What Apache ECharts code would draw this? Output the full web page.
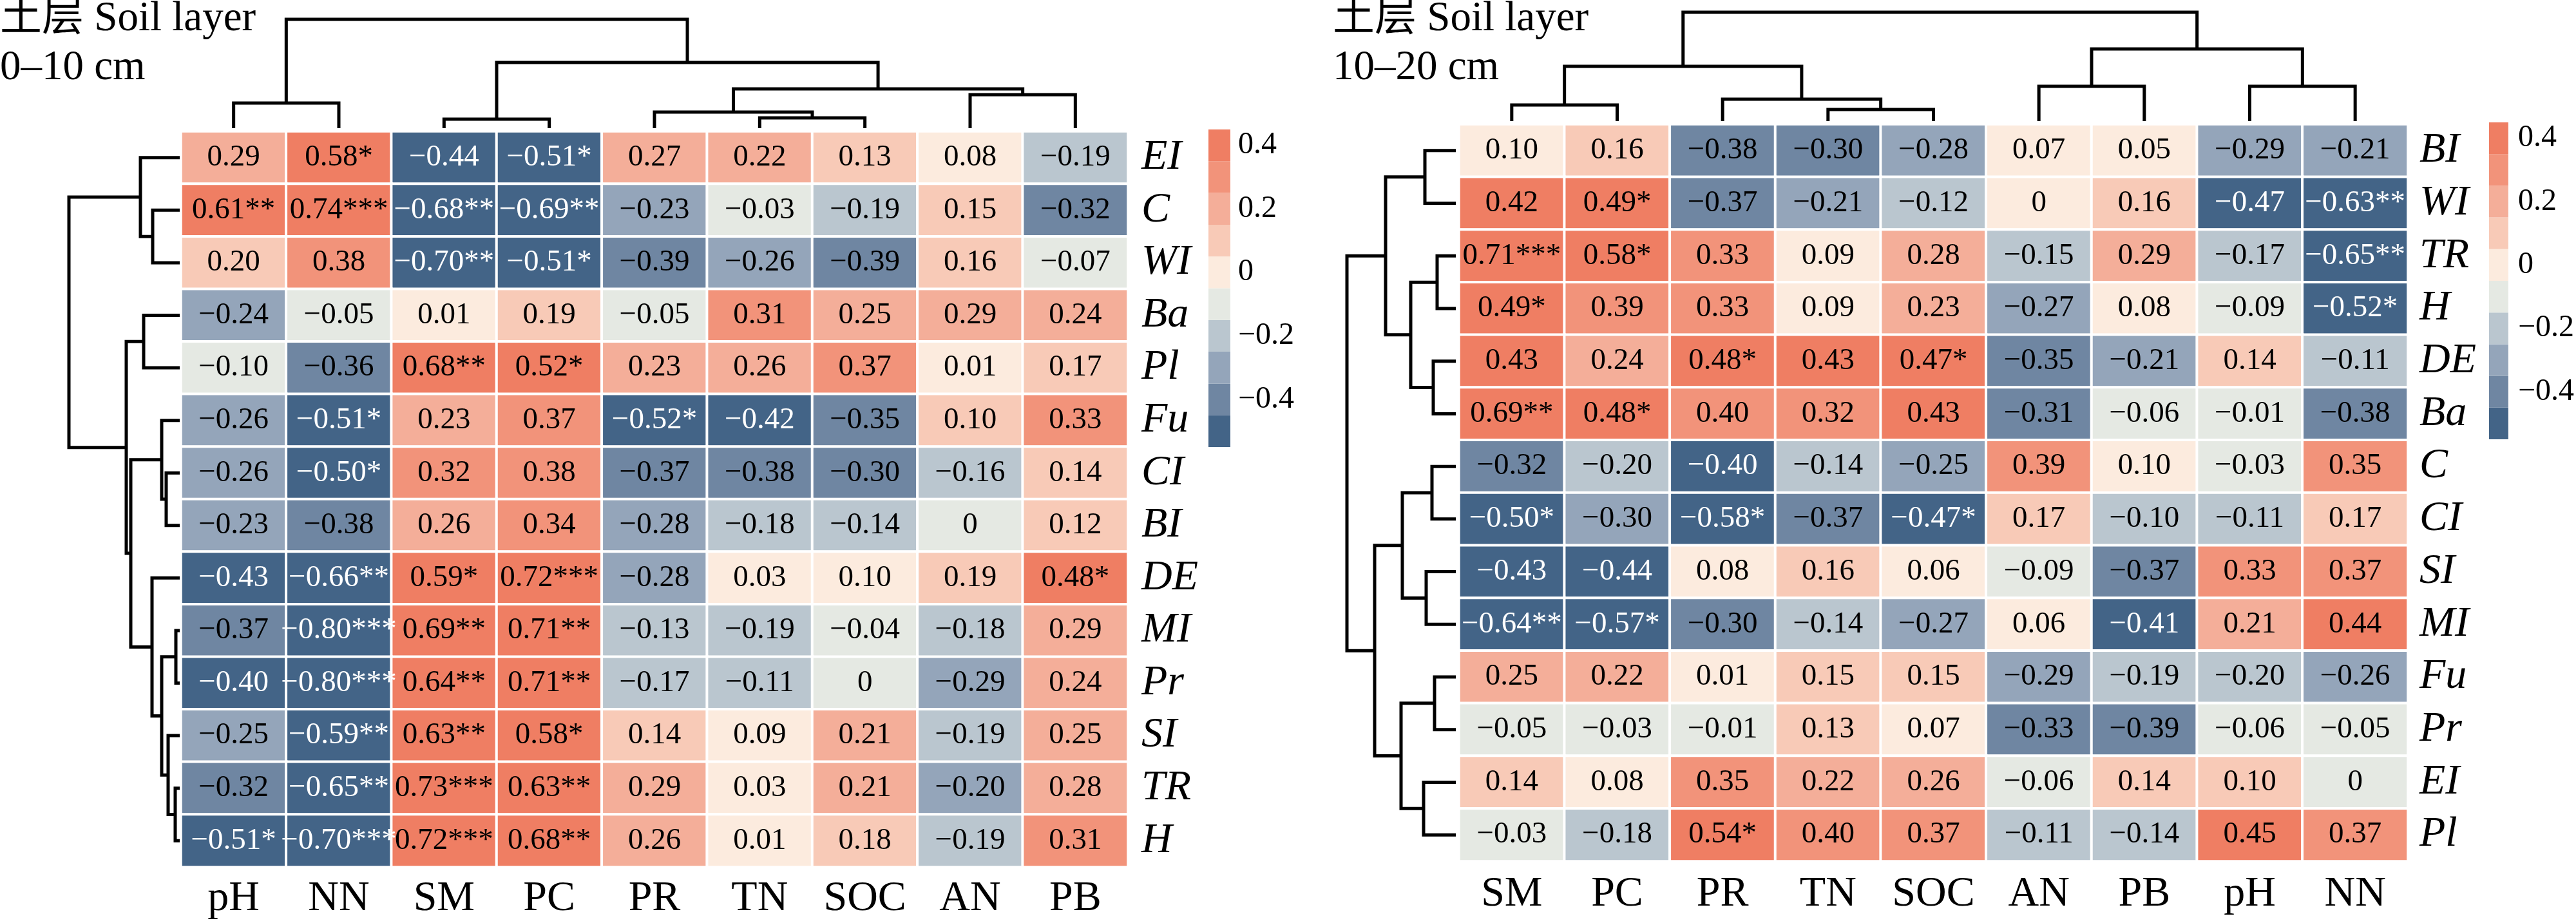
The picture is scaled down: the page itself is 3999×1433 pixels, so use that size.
<!DOCTYPE html>
<html><head><meta charset="utf-8">
<script src="https://cdn.jsdelivr.net/npm/echarts@6/dist/echarts.min.js"></script>
<style>html,body{margin:0;padding:0;background:#fff}#c{width:3999px;height:1433px}</style>
</head><body><div id="c"></div>
<script>
// ---------- data ----------
const leftCols = ['pH','NN','SM','PC','PR','TN','SOC','AN','PB'];
const leftRows = ['EI','C','WI','Ba','Pl','Fu','CI','BI','DE','MI','Pr','SI','TR','H'];
const leftValues = [
  [0.29, 0.58, -0.44, -0.51, 0.27, 0.22, 0.13, 0.08, -0.19],
  [0.61, 0.74, -0.68, -0.69, -0.23, -0.03, -0.19, 0.15, -0.32],
  [0.199, 0.38, -0.70, -0.51, -0.39, -0.26, -0.39, 0.16, -0.07],
  [-0.24, -0.05, 0.01, 0.19, -0.05, 0.31, 0.25, 0.29, 0.24],
  [-0.10, -0.36, 0.68, 0.52, 0.23, 0.26, 0.37, 0.01, 0.17],
  [-0.26, -0.51, 0.23, 0.37, -0.52, -0.42, -0.35, 0.10, 0.33],
  [-0.26, -0.50, 0.32, 0.38, -0.37, -0.38, -0.301, -0.16, 0.14],
  [-0.23, -0.38, 0.26, 0.34, -0.28, -0.18, -0.14, -0.001, 0.12],
  [-0.43, -0.66, 0.59, 0.72, -0.28, 0.03, 0.099, 0.19, 0.48],
  [-0.37, -0.80, 0.69, 0.71, -0.13, -0.19, -0.04, -0.18, 0.29],
  [-0.401, -0.80, 0.64, 0.71, -0.17, -0.11, -0.001, -0.29, 0.24],
  [-0.25, -0.59, 0.63, 0.58, 0.14, 0.09, 0.21, -0.19, 0.25],
  [-0.32, -0.65, 0.73, 0.63, 0.29, 0.03, 0.21, -0.201, 0.28],
  [-0.51, -0.70, 0.72, 0.68, 0.26, 0.01, 0.18, -0.19, 0.31]
];
const leftStars = [
  [0,1,0,1,0,0,0,0,0],
  [2,3,2,2,0,0,0,0,0],
  [0,0,2,1,0,0,0,0,0],
  [0,0,0,0,0,0,0,0,0],
  [0,0,2,1,0,0,0,0,0],
  [0,1,0,0,1,0,0,0,0],
  [0,1,0,0,0,0,0,0,0],
  [0,0,0,0,0,0,0,0,0],
  [0,2,1,3,0,0,0,0,1],
  [0,3,2,2,0,0,0,0,0],
  [0,3,2,2,0,0,0,0,0],
  [0,2,2,1,0,0,0,0,0],
  [0,2,3,2,0,0,0,0,0],
  [1,3,3,2,0,0,0,0,0]
];
const rightCols = ['SM','PC','PR','TN','SOC','AN','PB','pH','NN'];
const rightRows = ['BI','WI','TR','H','DE','Ba','C','CI','SI','MI','Fu','Pr','EI','Pl'];
const rightValues = [
  [0.099, 0.16, -0.38, -0.301, -0.28, 0.07, 0.05, -0.29, -0.21],
  [0.42, 0.49, -0.37, -0.21, -0.12, 0, 0.16, -0.47, -0.63],
  [0.71, 0.58, 0.33, 0.09, 0.28, -0.15, 0.29, -0.17, -0.65],
  [0.49, 0.39, 0.33, 0.09, 0.23, -0.27, 0.08, -0.09, -0.52],
  [0.43, 0.24, 0.48, 0.43, 0.47, -0.35, -0.21, 0.14, -0.11],
  [0.69, 0.48, 0.399, 0.32, 0.43, -0.31, -0.06, -0.01, -0.38],
  [-0.32, -0.20, -0.401, -0.14, -0.25, 0.39, 0.099, -0.03, 0.35],
  [-0.50, -0.30, -0.58, -0.37, -0.47, 0.17, -0.101, -0.11, 0.17],
  [-0.43, -0.44, 0.08, 0.16, 0.06, -0.09, -0.37, 0.33, 0.37],
  [-0.64, -0.57, -0.301, -0.14, -0.27, 0.06, -0.41, 0.21, 0.44],
  [0.25, 0.22, 0.01, 0.15, 0.15, -0.29, -0.19, -0.20, -0.26],
  [-0.05, -0.03, -0.01, 0.13, 0.07, -0.33, -0.39, -0.06, -0.05],
  [0.14, 0.08, 0.35, 0.22, 0.26, -0.06, 0.14, 0.10, -0.001],
  [-0.03, -0.18, 0.54, 0.399, 0.37, -0.11, -0.14, 0.45, 0.37]
];
const rightStars = [
  [0,0,0,0,0,0,0,0,0],
  [0,1,0,0,0,0,0,0,2],
  [3,1,0,0,0,0,0,0,2],
  [1,0,0,0,0,0,0,0,1],
  [0,0,1,0,1,0,0,0,0],
  [2,1,0,0,0,0,0,0,0],
  [0,0,0,0,0,0,0,0,0],
  [1,0,1,0,1,0,0,0,0],
  [0,0,0,0,0,0,0,0,0],
  [2,1,0,0,0,0,0,0,0],
  [0,0,0,0,0,0,0,0,0],
  [0,0,0,0,0,0,0,0,0],
  [0,0,0,0,0,0,0,0,0],
  [0,0,1,0,0,0,0,0,0]
];
// dendrograms: [childA, childB, height]; negative = leaf (1-based), positive = earlier merge (1-based)
const leftColMerge = [[-1,-2,39],[-3,-4,14],[-6,-7,16],[-5,3,25],[-8,-9,52],[4,5,61],[2,6,102],[1,7,169]];
const leftRowMerge = [[-2,-3,42],[-1,1,61],[-4,-5,56],[-7,-8,21],[-6,4,28],[-10,-11,6],[-13,-14,7],[-12,7,18],[6,8,28],[-9,9,43],[5,10,76],[3,11,83],[2,12,172]];
const rightColMerge = [[-1,-2,25],[-4,-5,18],[-3,2,34],[1,3,85],[-6,-7,54],[-8,-9,54],[5,6,112],[4,7,169]];
const rightRowMerge = [[-1,-2,48],[-3,-4,29],[-5,-6,35],[2,3,70],[1,4,109],[-7,-8,37],[-9,-10,46],[6,7,83],[-11,-12,33],[-13,-14,50],[9,10,85],[8,11,126],[5,12,169]];
// colour legend
const legendColors = ['#436487','#6F86A2','#94A5BA','#BAC6CF','#E5E9E3','#FCEBDE','#F8CAB7','#F4AE99','#F2937A','#EF7E63'];
const legendBreaks = [-0.55,-0.45,-0.35,-0.25,-0.15,-0.05,0.05,0.15,0.25,0.35,0.45];
const legendTicks = [-0.4,-0.2,0,0.2,0.4];
const titleText = '土层 Soil layer';
const leftDepth = '0–10 cm';
const rightDepth = '10–20 cm';

// ---------- helpers ----------
const FONT = "'Liberation Serif','Noto Sans CJK SC',serif";
function binOf(v){ let b = Math.floor(Math.round(v*1000)/100) + 5; return Math.max(0, Math.min(9, b)); }
function fmt(v){ const r = Math.round(v*100)/100; if (Math.abs(r) < 1e-9) return '0'; return (r<0?'\u2212':'') + Math.abs(r).toFixed(2); }
function heatData(vals, stars){
  const out = [];
  vals.forEach((row, r) => row.forEach((v, c) => {
    const b = binOf(v);
    out.push({
      value: [c, r, v],
      itemStyle: { color: legendColors[b] },
      label: { color: b === 0 ? '#ffffff' : '#000000', formatter: fmt(v) + '*'.repeat(stars[r][c]) }
    });
  }));
  return out;
}
function dendro(merge){
  const pos = [], ht = [], out = [];
  merge.forEach(([a, b, h]) => {
    const pa = a < 0 ? (-a - 1) + 0.5 : pos[a - 1];
    const ha = a < 0 ? 0 : ht[a - 1];
    const pb = b < 0 ? (-b - 1) + 0.5 : pos[b - 1];
    const hb = b < 0 ? 0 : ht[b - 1];
    out.push([pa, pb, ha, hb, h]);
    pos.push((pa + pb) / 2); ht.push(h);
  });
  return out;
}
const LW = 5;
function colDendroRender(params, api){
  const p = [api.coord([api.value(0), api.value(2)]), api.coord([api.value(0), api.value(4)]),
             api.coord([api.value(1), api.value(4)]), api.coord([api.value(1), api.value(3)])];
  return { type: 'polyline', shape: { points: p }, style: { stroke: '#000', lineWidth: LW, fill: null, lineJoin: 'miter' } };
}
function rowDendroRender(params, api){
  const p = [api.coord([api.value(2), api.value(0)]), api.coord([api.value(4), api.value(0)]),
             api.coord([api.value(4), api.value(1)]), api.coord([api.value(3), api.value(1)])];
  return { type: 'polyline', shape: { points: p }, style: { stroke: '#000', lineWidth: LW, fill: null, lineJoin: 'miter' } };
}
function legendRender(params, api){
  const a = api.coord([0, api.value(1)]), b = api.coord([1, api.value(0)]);
  return { type: 'rect', shape: { x: a[0], y: a[1], width: b[0] - a[0], height: b[1] - a[1] },
           style: { fill: legendColors[api.value(2)] } };
}
const legendData = legendColors.map((c, i) => [legendBreaks[i], legendBreaks[i + 1], i]);

const hidden = { show: false };
function hideAx(o){ return Object.assign({ axisLine: hidden, axisTick: hidden, axisLabel: hidden, splitLine: hidden }, o); }

// layout (px)
const L = { left: 281, top: 204, width: 1470, height: 1142 };
const R = { left: 2265, top: 193, width: 1473, height: 1144 };

const grids = [
  L, R,
  { left: L.left, top: 30, width: L.width, height: 169 },          // 2 left col dendro
  { left: 107, top: L.top, width: 172, height: L.height },          // 3 left row dendro
  { left: R.left, top: 19, width: R.width, height: 169 },           // 4 right col dendro
  { left: 2091, top: R.top, width: 169, height: R.height },         // 5 right row dendro
  { left: 1876, top: 201, width: 34, height: 493 },                 // 6 left legend
  { left: 3864, top: 190, width: 34, height: 492 }                  // 7 right legend
];

function heatX(gi, cats, margin){ return { type: 'category', gridIndex: gi, data: cats, position: 'bottom',
  axisLine: hidden, axisTick: hidden, splitLine: hidden, splitArea: hidden,
  axisLabel: { interval: 0, fontSize: 66, fontFamily: FONT, color: '#000', margin: margin } }; }
function heatY(gi, cats, margin){ return { type: 'category', gridIndex: gi, data: cats, position: 'right', inverse: true,
  axisLine: hidden, axisTick: hidden, splitLine: hidden, splitArea: hidden,
  axisLabel: { interval: 0, fontSize: 66, fontFamily: FONT, fontStyle: 'italic', color: '#000', margin: margin } }; }
function legendY(gi, margin){ return { type: 'value', gridIndex: gi, min: legendBreaks[0], max: legendBreaks[legendBreaks.length-1], position: 'right',
  axisLine: hidden, axisTick: hidden, splitLine: hidden,
  axisLabel: { customValues: legendTicks, fontSize: 48, fontFamily: FONT, color: '#000', margin: margin,
    formatter: v => (Math.abs(v) < 1e-9 ? '0' : (v < 0 ? '\u2212' : '') + Math.abs(v).toFixed(1)) } }; }

const maxH = m => m[m.length - 1][2];
const TITLE_FONT = "65px 'Liberation Serif', 'Noto Sans CJK SC', serif";
function titleText1(x, y, t){ return { type: 'text', x: x, y: y, style: { text: t, font: TITLE_FONT, fill: '#000', verticalAlign: 'middle', align: 'left' } }; }

const option = {
  animation: false,
  backgroundColor: '#ffffff',
  grid: grids,
  xAxis: [
    heatX(0, leftCols, 17),
    heatX(1, rightCols, 19),
    hideAx({ type: 'value', gridIndex: 2, min: 0, max: leftCols.length }),
    hideAx({ type: 'value', gridIndex: 3, min: 0, max: maxH(leftRowMerge), inverse: true }),
    hideAx({ type: 'value', gridIndex: 4, min: 0, max: rightCols.length }),
    hideAx({ type: 'value', gridIndex: 5, min: 0, max: maxH(rightRowMerge), inverse: true }),
    hideAx({ type: 'value', gridIndex: 6, min: 0, max: 1 }),
    hideAx({ type: 'value', gridIndex: 7, min: 0, max: 1 })
  ],
  yAxis: [
    heatY(0, leftRows, 21),
    heatY(1, rightRows, 18),
    hideAx({ type: 'value', gridIndex: 2, min: 0, max: maxH(leftColMerge) }),
    hideAx({ type: 'value', gridIndex: 3, min: 0, max: leftRows.length, inverse: true }),
    hideAx({ type: 'value', gridIndex: 4, min: 0, max: maxH(rightColMerge) }),
    hideAx({ type: 'value', gridIndex: 5, min: 0, max: rightRows.length, inverse: true }),
    legendY(6, 12),
    legendY(7, 15)
  ],
  series: [
    { type: 'heatmap', xAxisIndex: 0, yAxisIndex: 0, data: heatData(leftValues, leftStars),
      itemStyle: { borderColor: '#ffffff', borderWidth: 4 },
      label: { show: true, fontSize: 47, fontFamily: FONT }, emphasis: { disabled: true } },
    { type: 'heatmap', xAxisIndex: 1, yAxisIndex: 1, data: heatData(rightValues, rightStars),
      itemStyle: { borderColor: '#ffffff', borderWidth: 4 },
      label: { show: true, fontSize: 47, fontFamily: FONT }, emphasis: { disabled: true } },
    { type: 'custom', xAxisIndex: 2, yAxisIndex: 2, data: dendro(leftColMerge), renderItem: colDendroRender, silent: true },
    { type: 'custom', xAxisIndex: 3, yAxisIndex: 3, data: dendro(leftRowMerge), renderItem: rowDendroRender, silent: true },
    { type: 'custom', xAxisIndex: 4, yAxisIndex: 4, data: dendro(rightColMerge), renderItem: colDendroRender, silent: true },
    { type: 'custom', xAxisIndex: 5, yAxisIndex: 5, data: dendro(rightRowMerge), renderItem: rowDendroRender, silent: true },
    { type: 'custom', xAxisIndex: 6, yAxisIndex: 6, data: legendData, renderItem: legendRender, silent: true },
    { type: 'custom', xAxisIndex: 7, yAxisIndex: 7, data: legendData, renderItem: legendRender, silent: true }
  ],
  graphic: [
    titleText1(0, 30, titleText),
    titleText1(0, 106, leftDepth),
    titleText1(2069, 30, titleText),
    titleText1(2069, 106, rightDepth)
  ]
};
const chart = echarts.init(document.getElementById('c'), null, { renderer: 'canvas', width: 3999, height: 1433 });
chart.setOption(option);
</script></body></html>
